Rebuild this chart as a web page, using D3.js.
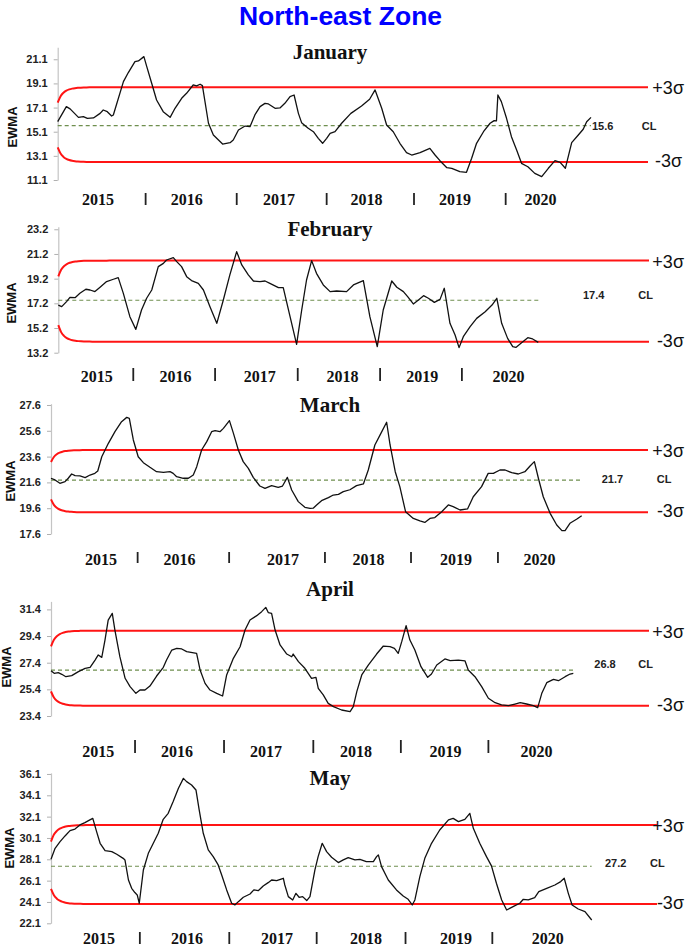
<!DOCTYPE html>
<html>
<head>
<meta charset="utf-8">
<script src="https://cdn.jsdelivr.net/npm/d3@7"></script>
<style>
  html, body { margin: 0; padding: 0; background: #fff; }
  svg { display: block; }
</style>
</head>
<body>
<svg id="chart" width="685" height="946"></svg>
<script>
// ---------------- DATA ----------------
const chartTitle = "North-east Zone";
const months = ["January", "February", "March", "April", "May"];
const years = ["2015", "2016", "2017", "2018", "2019", "2020"];
const lambda = 0.2; // EWMA smoothing constant used for the control limits

// EWMA series: [day index within the stacked days of 2015-2020, EWMA value]
const janEWMA = [[0,15.93],[3,17.18],[4.3,16.99],[7.2,16.29],[8.9,16.35],[10.3,16.21],[12.4,16.24],[14.7,16.62],[15.8,16.9],[17.2,16.76],[18.7,16.4],[19.3,16.48],[22.8,19.25],[24.5,20.0],[26.8,20.9],[28,20.96],[29.9,21.32],[30.9,20.49],[32.6,19.11],[34.3,17.73],[36.6,16.76],[39,16.29],[40.7,17.04],[43,17.87],[44.7,18.28],[47,18.97],[48.2,18.89],[49.4,19.03],[50.2,18.92],[52.3,15.8],[54,14.83],[57.2,14.08],[59.8,14.19],[60.9,14.41],[62.7,15.24],[65,15.57],[66.7,15.52],[68.4,16.49],[70.2,17.18],[71.9,17.45],[73.1,17.4],[75.4,17.04],[77.1,17.07],[78.8,17.45],[80.6,18.01],[82,18.14],[83.5,16.62],[84.6,15.85],[86.9,15.38],[88.7,15.1],[90.4,14.55],[91.9,14.14],[93.3,14.55],[94.5,14.97],[96.2,15.1],[98.5,15.8],[101.7,16.62],[105.4,17.23],[108.2,17.79],[110.1,18.56],[112.4,17.04],[114.1,15.66],[116.4,15.1],[118.7,14.14],[121,13.37],[122.8,13.17],[125.7,13.37],[129.1,13.72],[130.9,13.17],[132.6,12.7],[135,12.12],[136.7,12.07],[139.5,11.79],[141.8,11.74],[143.6,12.9],[145.3,14.14],[147.7,15.1],[150,15.8],[151.4,16.02],[152.2,15.99],[152.7,18.14],[153.9,17.59],[155.7,16.21],[157.4,14.69],[159.2,13.59],[160.9,12.48],[163.1,12.2],[165.5,11.65],[167.9,11.38],[170.2,12.07],[172.5,12.7],[174.3,12.56],[176.1,12.07],[178.3,14.19],[180.6,14.83],[182.3,15.3],[183.5,15.93],[185,16.29]];

const febEWMA = [[0,17.06],[1.2,16.93],[2.9,17.34],[4.1,17.69],[5.9,17.66],[7.6,18.01],[9.7,18.34],[11.2,18.28],[12.9,18.15],[14.7,18.5],[17,18.96],[19.4,19.15],[21.1,19.28],[22.9,18.01],[25.2,16.12],[27.3,15.09],[29.3,16.66],[31.1,17.61],[32.9,18.28],[35.2,20.17],[37,20.44],[38.1,20.71],[40.5,20.9],[41.7,20.58],[43.4,20.17],[45.2,19.36],[46.9,19.04],[49.3,18.82],[51.1,18.28],[53.4,16.93],[55.8,15.58],[58.1,17.47],[60.4,19.5],[62.8,21.39],[64.6,20.31],[66.9,19.5],[68.7,19.01],[71,18.96],[72.8,19.01],[74.5,18.82],[77.5,18.47],[79.2,18.47],[81.6,16.12],[83.9,13.88],[85.7,16.66],[87.4,19.09],[89.2,20.66],[90.9,19.63],[93.3,18.69],[95.7,18.15],[98,18.2],[101.5,18.15],[103.9,18.69],[107.4,19.04],[109.7,16.12],[112.3,13.69],[114.4,16.66],[117.4,19.01],[119.2,18.5],[121.5,18.15],[123,17.74],[125,17.15],[126.8,17.47],[128.6,17.82],[130.3,17.61],[132.4,17.28],[134.4,17.52],[135.9,18.42],[137.9,15.58],[139.7,14.63],[141.1,13.61],[142.6,14.5],[145,15.31],[147.3,15.98],[150.3,16.52],[152.7,17.06],[154.4,17.61],[156.1,15.58],[158.2,14.36],[160,13.69],[161.1,13.63],[162.9,13.96],[165.3,14.42],[167,14.31],[169,14.04]];

const marEWMA = [[0,21.92],[1.4,21.79],[3.1,21.53],[4.9,21.66],[6,21.92],[7.2,22.25],[8.4,22.12],[10.1,22.1],[11.9,21.97],[13.6,22.17],[15.3,22.3],[16.3,22.48],[17.7,23.59],[20,24.63],[22.3,25.53],[24.6,26.31],[26.4,26.64],[27.3,26.57],[28.7,24.89],[30.4,23.59],[32.2,23.13],[34.5,22.77],[36.8,22.43],[39.2,22.38],[41.5,22.43],[42.6,22.3],[43.8,22.04],[46.1,21.92],[47.9,21.92],[49.6,22.17],[50.8,22.82],[52.5,24.11],[54.3,24.76],[56,25.53],[57.2,25.61],[58.9,25.53],[60.1,25.79],[62.2,26.39],[63.6,25.4],[65.3,24.11],[67,23.21],[68.8,22.69],[70.5,21.99],[72.8,21.32],[74.6,21.14],[76.9,21.35],[79.2,21.22],[80.7,21.32],[82.4,21.99],[83.9,21.01],[86.2,20.11],[88.5,19.67],[90.3,19.59],[91.4,19.6],[92.6,19.85],[94.3,20.18],[96.7,20.42],[98.4,20.62],[100.2,20.67],[101.9,20.88],[104.2,21.03],[106.5,21.35],[108.9,21.48],[110.6,22.56],[112.9,24.5],[115,25.4],[117,26.26],[118.2,24.5],[120,22.43],[121.6,21.27],[123.6,19.33],[126.3,18.81],[128.6,18.61],[130.3,18.5],[132.1,18.81],[133.8,18.87],[136.2,19.33],[138.5,19.85],[140.2,19.72],[142.6,19.46],[145.2,19.54],[147.2,20.49],[150.1,21.27],[152.4,22.3],[154.2,22.3],[156.5,22.56],[158.3,22.56],[160.6,22.35],[162.9,22.25],[165.2,22.43],[167,22.87],[168.5,23.21],[169.9,21.92],[171.6,20.49],[174,19.2],[176.3,18.3],[178.1,17.86],[179.2,17.86],[180.9,18.43],[183.2,18.74],[185,19.02]];

const aprEWMA = [[0,26.8],[1.1,26.6],[2.5,26.65],[3.7,26.53],[5.1,26.35],[7.1,26.43],[9.4,26.73],[11.7,26.98],[13.4,27.05],[15.1,27.6],[16.2,27.98],[17.4,27.8],[18.5,29.1],[19.6,30.6],[21,31.1],[21.9,29.85],[23.6,27.85],[25.4,26.23],[27.1,25.6],[29.1,25.1],[30.5,25.35],[32.2,25.35],[33.9,25.65],[36.2,26.4],[38.5,27.05],[39.6,27.6],[41.4,28.35],[43.1,28.48],[44.8,28.43],[46.5,28.23],[49.9,28.1],[51.1,26.85],[52.8,25.85],[54.5,25.35],[56.8,25.1],[58.8,24.9],[60.2,26.48],[62.5,27.73],[64.8,28.6],[66.5,29.85],[68.2,30.6],[70.5,30.93],[72.2,31.23],[73.6,31.55],[74.5,31.15],[75.6,31.1],[76.8,29.85],[78.5,28.73],[80.8,28.05],[82.5,27.85],[83,28.05],[84.8,27.48],[87,26.98],[89.3,26.23],[90.8,26.3],[91.6,25.48],[93.3,24.98],[95,24.35],[96.8,24.1],[99.6,23.85],[102.5,23.73],[103.6,24.1],[104.8,25.23],[106.5,26.48],[108.8,27.23],[111.6,28.05],[113.9,28.65],[116.2,28.6],[117.7,28.48],[119,28.1],[120.2,28.98],[121.7,30.18],[123,29.1],[124.7,28.35],[126.8,27.1],[129.1,26.3],[130.4,26.55],[132.2,27.23],[135,27.68],[136.8,27.55],[139.6,27.6],[141.9,27.53],[143,26.85],[145.3,26.35],[147.6,25.6],[149.9,24.73],[152.2,24.4],[154.4,24.23],[156.8,24.18],[159,24.3],[160.8,24.4],[163,24.3],[165.3,24.18],[166.8,24.03],[168.2,25.1],[169.9,25.9],[172.2,26.15],[173.9,26.05],[176.2,26.35],[177.9,26.55],[179,26.6]];

const mayEWMA = [[0,28.1],[1.4,29.13],[3.1,29.76],[4.8,30.29],[6.5,30.79],[8.2,30.94],[9.9,31.32],[11.6,31.54],[13.3,31.79],[14.3,31.94],[15.6,30.69],[16.8,29.6],[18.5,28.91],[20.8,28.82],[22.5,28.57],[24.7,28.19],[25.3,28.04],[26.5,26.16],[27.6,25.38],[28.7,24.98],[29.5,24.76],[30.2,23.98],[31.6,27.1],[33.3,28.66],[35,29.6],[36.7,30.54],[38.4,31.85],[40.1,32.41],[41.8,33.51],[43.6,34.76],[45.3,35.69],[46.4,35.38],[48.1,35.07],[49.6,34.6],[50.7,32.73],[52.1,30.54],[53.8,28.98],[55.5,28.35],[57.2,27.57],[58.4,26.63],[60.1,25.23],[61.8,23.98],[62.9,23.82],[64.1,24.13],[65.8,24.54],[68.1,24.85],[69.4,25.23],[70.9,25.16],[72.6,25.6],[74.3,25.91],[75.5,26.16],[77.2,26.1],[79.5,26.32],[80,25.69],[81.2,24.6],[82.7,24.29],[83.8,24.91],[84.9,24.54],[86.1,24.6],[87.5,24.23],[88.6,24.6],[90.3,27.1],[91.4,28.35],[92.8,29.6],[94.3,28.82],[96,28.29],[98.3,27.79],[100,28.04],[101.7,28.26],[104,28.04],[105.7,28.1],[107.9,27.88],[110.3,27.88],[111.4,28.35],[112,28.51],[113.1,27.41],[115.4,26.16],[118.2,25.23],[120.5,24.66],[122.2,24.35],[123.6,23.82],[124.5,24.29],[126.2,26.48],[127.9,28.19],[130.2,29.6],[133,30.85],[136,31.79],[137.6,31.94],[139.4,31.63],[141.6,31.85],[143.3,32.41],[144.5,31],[146.7,29.6],[149,28.35],[150.7,27.48],[152.4,25.85],[154.2,24.29],[155.9,23.35],[158.1,23.66],[160.4,23.98],[161.6,24.35],[163.3,24.29],[165.5,24.51],[166.9,25.07],[169.6,25.38],[172.4,25.69],[174.4,26.01],[175.6,26.32],[177,24.91],[178.3,23.82],[180.4,23.44],[182.7,23.19],[185,22.41]];

const seriesList = [janEWMA, febEWMA, marEWMA, aprEWMA, mayEWMA];

const clLevels = [15.6, 17.45, 21.78, 26.85, 27.45];   // centre line level as drawn
const clLabels = ["15.6", "17.4", "21.7", "26.8", "27.2"];
const uclLevels = [18.78, 20.66, 24.11, 29.8, 31.31];
const lclLevels = [12.59, 14.09, 19.28, 24.17, 23.91];

const yTicks = [
  [11.1, 13.1, 15.1, 17.1, 19.1, 21.1],
  [13.2, 15.2, 17.2, 19.2, 21.2, 23.2],
  [17.6, 19.6, 21.6, 23.6, 25.6, 27.6],
  [23.4, 25.4, 27.4, 29.4, 31.4],
  [22.1, 24.1, 26.1, 28.1, 30.1, 32.1, 34.1, 36.1]
];
const yAxisMax = [22.1, 23.4, 27.7, 32.0, 36.2];

// year label centres and year separators, in day-index units
const yearPositions = [
  [14, 44.8, 76.8, 107.1, 137.8, 167.5],
  [13.5, 41.3, 70.9, 100.1, 128.1, 158.5],
  [17.4, 44.8, 80.9, 110.7, 141.2, 170.3],
  [16.2, 43.2, 73.7, 104.5, 135.2, 166.4],
  [16.4, 46.5, 77.3, 107.8, 138.6, 170]
];
const separatorPositions = [
  [30.5, 62.1, 93.3, 123.6, 155.4],
  [26.4, 55.2, 84.3, 113.3, 142.1],
  [30.2, 62.1, 95.5, 125.5, 155.8],
  [28.8, 59.3, 89.9, 119.9, 149.9],
  [30.4, 61, 90.9, 121.3, 151]
];

// ---------------- LAYOUT ----------------
const layout = [
  {x0:57.7, xEnd:591, xRed:648, yBottom:180,   yTop:47.2,  titleY:59,  yearY:205, sepTop:193, sepBot:205, ewmaX:12,   ewmaY:127, clX:592,   clY:125.5, clTagX:641.7, plusX:653,   minusX:655},
  {x0:58.3, xEnd:538.3, xRed:649, yBottom:352.7, yTop:226.8, titleY:236, yearY:382, sepTop:368, sepBot:381, ewmaX:11.5, ewmaY:303, clX:583,   clY:295,   clTagX:638.3, plusX:654.3, minusX:657.7},
  {x0:51,   xEnd:581.7, xRed:648, yBottom:534,   yTop:403.7, titleY:412, yearY:565, sepTop:552, sepBot:563, ewmaX:10.5, ewmaY:481, clX:601.7, clY:478.5, clTagX:656.7, plusX:653.3, minusX:658.3},
  {x0:51,   xEnd:573.3, xRed:649, yBottom:716,   yTop:601.4, titleY:596, yearY:757, sepTop:740, sepBot:753, ewmaX:6.5,  ewmaY:667, clX:594.3, clY:664,   clTagX:638.3, plusX:656.7, minusX:659},
  {x0:51,   xEnd:591.7, xRed:657, yBottom:923.3, yTop:772.9, titleY:785, yearY:944, sepTop:932, sepBot:944, ewmaX:9,    ewmaY:848, clX:605,   clY:863,   clTagX:650,   plusX:660,   minusX:660}
];
const WIDTH = 685;

const SANS = "'Liberation Sans', Arial, Helvetica, sans-serif";
const SERIF = "'Liberation Serif', 'Times New Roman', Times, serif";

const svg = d3.select("#chart");

svg.append("text")
  .attr("x", 340.5).attr("y", 24.5)
  .attr("text-anchor", "middle")
  .style("font-family", SANS).style("font-weight", "bold")
  .style("font-size", "26.5px").style("fill", "#0000ff")
  .text(chartTitle);

months.forEach((month, p) => {
  const L = layout[p];
  const data = seriesList[p];
  const lastIdx = d3.max(data, d => d[0]);
  const x = d3.scaleLinear().domain([0, lastIdx]).range([L.x0, L.xEnd]);
  const y = d3.scaleLinear().domain([yTicks[p][0], yAxisMax[p]]).range([L.yBottom, L.yTop]);
  const g = svg.append("g");

  // month title
  g.append("text")
    .attr("x", 330).attr("y", L.titleY)
    .attr("text-anchor", "middle")
    .style("font-family", SERIF).style("font-weight", "bold")
    .style("font-size", "21px").style("fill", "#111")
    .text(month);

  // y axis
  const axis = d3.axisLeft(y).tickValues(yTicks[p]).tickFormat(d3.format(".1f"))
    .tickSizeInner(4).tickSizeOuter(0).tickPadding(6);
  const ag = g.append("g").attr("transform", `translate(${L.x0},0)`).call(axis);
  ag.select(".domain").attr("stroke", "#c4c4c4").attr("stroke-width", 1.2);
  ag.selectAll(".tick line").attr("stroke", "#b0b0b0");
  ag.selectAll(".tick text")
    .style("font-family", SANS).style("font-weight", "bold")
    .style("font-size", "11px").style("fill", "#222");

  // EWMA label
  g.append("text")
    .attr("transform", `translate(${L.ewmaX},${L.ewmaY}) rotate(-90)`)
    .attr("text-anchor", "middle").attr("dominant-baseline", "central")
    .style("font-family", SANS).style("font-weight", "bold")
    .style("font-size", "13px").style("fill", "#111")
    .text("EWMA");

  // EWMA control limits (time-varying start, lambda = 0.2)
  const cl = clLevels[p], ucl = uclLevels[p], lcl = lclLevels[p];
  const limitEnd = x.invert(L.xRed);
  const idxs = d3.range(0, Math.floor(limitEnd) + 1);
  if (idxs[idxs.length - 1] < limitEnd) idxs.push(limitEnd);
  const factor = i => Math.sqrt(1 - Math.pow(1 - lambda, 2 * (i + 1)));
  const upper = idxs.map(i => [i, cl + (ucl - cl) * factor(i)]);
  const lower = idxs.map(i => [i, cl - (cl - lcl) * factor(i)]);
  const limLine = d3.line().x(d => x(d[0])).y(d => y(d[1])).curve(d3.curveMonotoneX);
  [upper, lower].forEach(arr => {
    g.append("path").attr("d", limLine(arr))
      .attr("fill", "none").attr("stroke", "#ff1414").attr("stroke-width", 2);
  });

  // centre line
  g.append("line")
    .attr("x1", x(0)).attr("x2", x(lastIdx))
    .attr("y1", y(cl)).attr("y2", y(cl))
    .attr("stroke", "#6f8f4f").attr("stroke-width", 1.2)
    .attr("stroke-dasharray", "4,3");

  // EWMA series
  const line = d3.line().x(d => x(d[0])).y(d => y(d[1]));
  g.append("path").attr("d", line(data))
    .attr("fill", "none").attr("stroke", "#111").attr("stroke-width", 1.3)
    .attr("stroke-linejoin", "round");

  // CL annotation
  g.append("text").attr("x", L.clX).attr("y", L.clY)
    .attr("dominant-baseline", "central")
    .style("font-family", SANS).style("font-weight", "bold")
    .style("font-size", "11px").style("fill", "#222")
    .text(clLabels[p]);
  g.append("text").attr("x", L.clTagX).attr("y", L.clY)
    .attr("dominant-baseline", "central")
    .style("font-family", SANS).style("font-weight", "bold")
    .style("font-size", "11px").style("fill", "#222")
    .text("CL");

  // sigma labels (kept inside the picture's right edge)
  const sigma = (txt, x0, yy) => {
    const t = g.append("text").attr("x", x0).attr("y", yy)
      .attr("dominant-baseline", "central")
      .style("font-family", SANS).style("font-size", "18px").style("fill", "#111")
      .text(txt);
    const w = t.node().getComputedTextLength();
    if (x0 + w > WIDTH - 1) t.attr("x", WIDTH - 1 - w);
  };
  sigma("+3σ", L.plusX, y(ucl) + 1);
  sigma("-3σ", L.minusX, y(lcl) - 1);

  // year labels
  g.selectAll(".yr").data(years).enter().append("text")
    .attr("x", (d, i) => x(yearPositions[p][i])).attr("y", L.yearY)
    .attr("text-anchor", "middle")
    .style("font-family", SERIF).style("font-weight", "bold")
    .style("font-size", "16px").style("fill", "#111")
    .text(d => d);

  // year separators
  g.selectAll(".sep").data(separatorPositions[p]).enter().append("line")
    .attr("x1", d => x(d)).attr("x2", d => x(d))
    .attr("y1", L.sepTop).attr("y2", L.sepBot)
    .attr("stroke", "#222").attr("stroke-width", 1.8);
});
</script>
</body>
</html>
